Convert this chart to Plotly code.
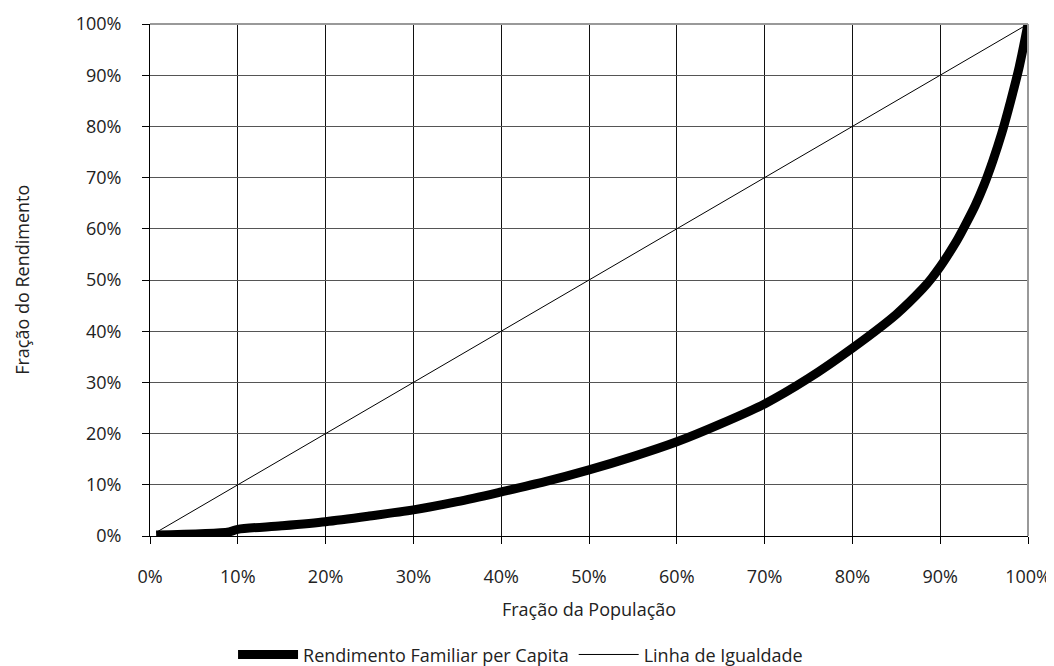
import plotly.graph_objects as go

# Lorenz curve data (percent)
pop_frac = [0.7, 9, 10, 15, 20, 25, 30, 35, 40, 45, 50, 55, 60, 65, 70, 75,
            80, 85, 88, 89, 90, 91, 92, 93, 94, 95, 96, 97, 98, 99, 100]
income_frac = [0.2, 0.8, 1.3, 2.0, 2.8, 3.9, 5.1, 6.7, 8.6, 10.6, 12.9, 15.5,
               18.4, 21.9, 25.8, 30.8, 36.7, 43.3, 48.3, 50.3, 52.6, 55.2,
               58.0, 61.2, 64.6, 68.6, 73.3, 78.6, 84.8, 91.6, 100.0]
equality_x = [0.7, 100]
equality_y = [0.7, 100]
tick_vals = [0, 10, 20, 30, 40, 50, 60, 70, 80, 90, 100]
tick_text = [f"{v}%" for v in tick_vals]

FONT = "Open Sans"

fig = go.Figure()
fig.add_trace(go.Scatter(x=pop_frac, y=income_frac, mode="lines",
                         name="Rendimento Familiar per Capita",
                         line=dict(color="black", width=9, shape="spline",
                                   smoothing=0.8)))
fig.add_trace(go.Scatter(x=equality_x, y=equality_y, mode="lines",
                         name="Linha de Igualdade",
                         line=dict(color="black", width=1)))

fig.update_layout(
    width=1046, height=658,
    margin=dict(l=142, r=26, t=16, b=130, autoexpand=False),
    paper_bgcolor="white", plot_bgcolor="white",
    font=dict(family=FONT, size=18, color="#222"),
    showlegend=True,
    legend=dict(orientation="h", xref="container", x=0.49, xanchor="center",
                yref="paper", y=-0.232, yanchor="middle",
                font=dict(size=18, family=FONT), itemwidth=60,
                tracegroupgap=0,
                bgcolor="rgba(0,0,0,0)"),
    xaxis=dict(range=[0, 100], tickvals=tick_vals, ticktext=tick_text,
               showgrid=True, gridcolor="#111", gridwidth=1,
               showline=True, linecolor="black", linewidth=1,
               ticks="outside", ticklen=7, tickcolor="black",
               ticklabelstandoff=17, automargin=False,
               zeroline=False,
               title=dict(text="Fração da População", standoff=16,
                          font=dict(size=18))),
    yaxis=dict(range=[0, 100], tickvals=tick_vals, ticktext=tick_text,
               showgrid=True, gridcolor="#555", gridwidth=1,
               showline=True, linecolor="black", linewidth=1,
               ticks="outside", ticklen=7, tickcolor="black",
               ticklabelstandoff=17, automargin=False,
               zeroline=False),
    annotations=[dict(text="Fração do Rendimento", xref="paper", yref="paper",
                      x=-0.146, y=0.5, xanchor="center", yanchor="middle",
                      textangle=-90, showarrow=False,
                      font=dict(size=18, family=FONT, color="#222"))],
)

# plot-area border (top and right in gray)
fig.add_shape(type="line", xref="paper", yref="paper", x0=0, x1=1, y0=1, y1=1,
              line=dict(color="#999", width=2))
fig.add_shape(type="line", xref="paper", yref="paper", x0=1, x1=1, y0=0, y1=1,
              line=dict(color="#999", width=2))

fig.write_html("out.html")
